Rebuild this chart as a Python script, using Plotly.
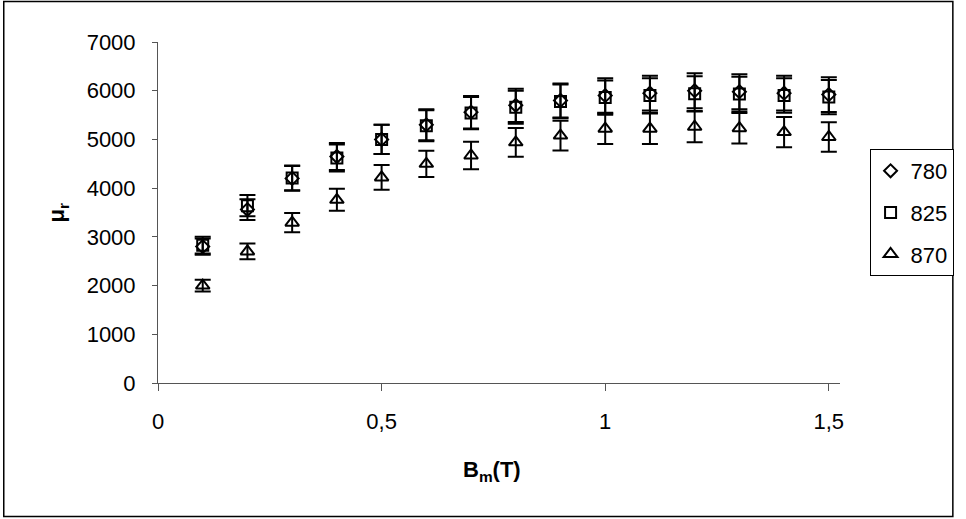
import plotly.graph_objects as go

# Magnetic flux density Bm (T)
bm = [0.1, 0.2, 0.3, 0.4, 0.5, 0.6, 0.7, 0.8, 0.9, 1.0, 1.1, 1.2, 1.3, 1.4, 1.5]

# Relative permeability for three annealing temperatures
mu_780 = [2800, 3560, 4200, 4650, 5000, 5300, 5560, 5700, 5800, 5900, 5950, 6000, 5980, 5950, 5920]
mu_825 = [2830, 3640, 4210, 4620, 5000, 5280, 5540, 5660, 5780, 5860, 5900, 5940, 5930, 5900, 5870]
mu_870 = [2000, 2700, 3290, 3760, 4220, 4500, 4670, 4940, 5080, 5220, 5220, 5260, 5230, 5150, 5050]

series_names = ["780", "825", "870"]
error_percent = 6

x_tickvals = [0, 0.5, 1, 1.5]
x_ticktext = ["0", "0,5", "1", "1,5"]
y_tickvals = [0, 1000, 2000, 3000, 4000, 5000, 6000, 7000]

FONT = "Liberation Sans, Arial, sans-serif"
W, H = 966, 519
ML, MR, MT, MB = 158, 116, 42, 136
PW, PH = W - ML - MR, H - MT - MB


def px_to_paper_x(px):
    return (px - ML) / PW


def px_to_paper_y(py):
    return (H - MB - py) / PH


fig = go.Figure()

styles = [
    dict(symbol="diamond-open", size=10),
    dict(symbol="square-open", size=11),
    dict(symbol="triangle-up-open", size=12),
]

for name, vals, st in zip(series_names, [mu_780, mu_825, mu_870], styles):
    fig.add_trace(go.Scatter(
        x=bm, y=vals, mode="markers", name=name,
        legendgroup=name,
        cliponaxis=False,
        marker=dict(symbol=st["symbol"], size=st["size"], color="black",
                    line=dict(color="black", width=2)),
        error_y=dict(type="percent", value=error_percent, visible=True,
                     color="black", thickness=2, width=8),
    ))

fig.update_layout(
    width=W, height=H,
    margin=dict(l=ML, r=MR, t=MT, b=MB, pad=0),
    paper_bgcolor="white", plot_bgcolor="white",
    font=dict(family=FONT, size=22, color="black"),
    showlegend=True,
    legend=dict(
        x=px_to_paper_x(880), y=0.5, xanchor="left", yanchor="middle",
        bordercolor="black", borderwidth=1, bgcolor="white",
        font=dict(family=FONT, size=22, color="black"),
        tracegroupgap=10, itemwidth=30,
    ),
    xaxis=dict(
        range=[0, 1.525], tickvals=x_tickvals, ticktext=x_ticktext,
        showgrid=False, zeroline=False, showline=True, linecolor="#555555",
        linewidth=1, ticks="outside", ticklen=7, tickcolor="#555555",
        ticklabelstandoff=12,
        tickfont=dict(family=FONT, size=22, color="black"),
    ),
    yaxis=dict(
        range=[0, 7000], tickvals=y_tickvals,
        showgrid=False, zeroline=False, showline=True, linecolor="#555555",
        linewidth=1, ticks="outside", ticklen=5, tickcolor="#555555",
        ticklabelstandoff=12,
        tickfont=dict(family=FONT, size=22, color="black"),
    ),
    annotations=[
        dict(text="<b>B<sub>m</sub>(T)</b>", xref="paper", yref="paper",
             x=px_to_paper_x(497), y=px_to_paper_y(471),
             xanchor="center", yanchor="middle", showarrow=False,
             font=dict(family=FONT, size=22, color="black")),
        dict(text="<b>μ<sub>r</sub></b>", xref="paper", yref="paper",
             x=px_to_paper_x(57), y=px_to_paper_y(213), textangle=-90,
             xanchor="center", yanchor="middle", showarrow=False,
             font=dict(family=FONT, size=22, color="black")),
    ],
    shapes=[
        dict(type="rect", xref="paper", yref="paper",
             x0=px_to_paper_x(1.5), x1=px_to_paper_x(964.5),
             y0=px_to_paper_y(516.5), y1=px_to_paper_y(1.5),
             line=dict(color="black", width=1.5), fillcolor="rgba(0,0,0,0)",
             layer="below"),
    ],
)

fig.write_html("out.html")
